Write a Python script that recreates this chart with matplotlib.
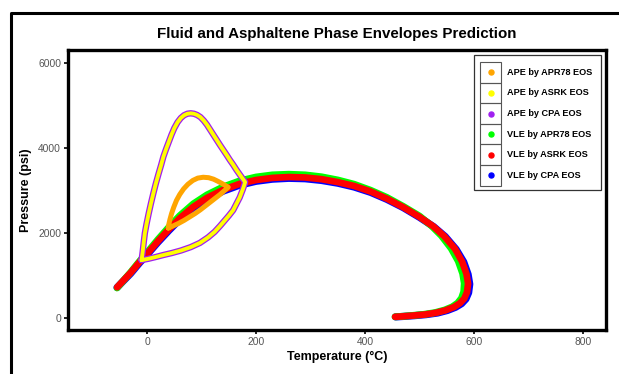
import numpy as np
import matplotlib
matplotlib.use('Agg')
import matplotlib.pyplot as plt
from matplotlib.patches import Rectangle
from matplotlib.lines import Line2D

plt.rcParams['font.family'] = ['Liberation Sans', 'DejaVu Sans']

# VLE by ASRK EOS (red)
t_asrk = [-55, -30, -13, 0, 20, 40, 60, 85, 110, 140, 170, 200, 230, 260, 290, 320, 350, 380, 410, 440,
          470, 500, 525, 545, 565, 578, 586, 589, 587, 582, 574, 563, 548, 530, 510, 488, 470, 455]
p_asrk = [715, 1060, 1320, 1500, 1800, 2080, 2340, 2610, 2820, 3010, 3150, 3240, 3290, 3310, 3300, 3260, 3190, 3100, 2970, 2800,
          2600, 2370, 2150, 1920, 1620, 1320, 1030, 800, 600, 450, 340, 250, 175, 115, 75, 50, 32, 20]
# VLE by APR78 EOS (green)
t_apr = [-55, -30, -13, 0, 20, 40, 60, 85, 110, 140, 170, 200, 230, 260, 290, 320, 350, 380, 410, 440,
         470, 500, 522, 540, 558, 571, 579, 582, 581, 577, 570, 560, 546, 528, 508, 487, 470, 455]
p_apr = [700, 1070, 1340, 1530, 1840, 2130, 2400, 2680, 2890, 3080, 3220, 3310, 3360, 3375, 3360, 3315, 3240, 3140, 3000, 2830,
         2620, 2390, 2160, 1930, 1630, 1330, 1040, 810, 610, 460, 345, 255, 180, 118, 78, 52, 33, 20]
# VLE by CPA EOS (blue)
t_cpa = [-55, -30, -13, 0, 20, 40, 60, 85, 110, 140, 170, 200, 230, 260, 290, 320, 350, 380, 410, 440,
         470, 500, 526, 547, 567, 581, 589, 592, 590, 585, 577, 566, 551, 533, 512, 490, 471, 456]
p_cpa = [710, 1040, 1300, 1480, 1775, 2050, 2310, 2580, 2790, 2980, 3120, 3210, 3260, 3280, 3270, 3230, 3165, 3075, 2950, 2785,
         2590, 2360, 2140, 1910, 1610, 1310, 1020, 790, 590, 440, 330, 245, 170, 110, 72, 47, 30, 18]

# APE by ASRK / CPA EOS (yellow / purple)
t_ape = [-10, -8, -6, -4, -1, 3, 7, 11.6, 16, 21, 26, 30, 35, 40, 45, 50, 56, 62, 68, 74, 80, 86, 92, 98,
         104, 110, 116, 122, 128, 134, 140, 146, 152, 158, 164, 170, 175, 180,
         176, 170, 164, 158, 150, 142, 134, 124, 112, 97, 80, 62, 45, 30, 15, 2, -10]
p_ape = [1355, 1550, 1780, 1990, 2200, 2450, 2680, 2927, 3150, 3380, 3600, 3788, 3970, 4140, 4310, 4460, 4600, 4700, 4765, 4800, 4810, 4800, 4770, 4720,
         4640, 4540, 4420, 4300, 4180, 4060, 3945, 3830, 3710, 3600, 3480, 3370, 3280, 3190,
         3030, 2830, 2680, 2530, 2400, 2280, 2160, 2020, 1890, 1760, 1660, 1580, 1520, 1475, 1425, 1385, 1355]
# APE by APR78 EOS (orange)
t_ape_apr = [39, 40, 42, 45, 49, 54, 60, 67, 75, 84, 93, 103, 113, 122, 130, 138, 144, 149,
             142, 134, 126, 118, 108, 98, 88, 78, 68, 58, 48, 39]
p_ape_apr = [2110, 2200, 2310, 2450, 2600, 2760, 2900, 3030, 3140, 3230, 3285, 3305, 3295, 3260, 3210, 3155, 3110, 3070,
             2990, 2900, 2820, 2740, 2640, 2540, 2450, 2370, 2290, 2220, 2160, 2110]

labels = ['APE by APR78 EOS', 'APE by ASRK EOS', 'APE by CPA EOS',
          'VLE by APR78 EOS', 'VLE by ASRK EOS', 'VLE by CPA EOS']
colors = ['#FFA500', '#FFFF00', '#A020F0', '#00FF00', '#FF0000', '#0000FF']

xticks = [0, 200, 400, 600, 800]
yticks = [0, 2000, 4000, 6000]

fig = plt.figure(figsize=(6.19, 3.74), dpi=100)
ax = fig.add_axes([68 / 619, 1 - 330 / 374, (606 - 68) / 619, (330 - 50) / 374])

kw = dict(solid_capstyle='round', solid_joinstyle='round')
ax.plot(t_cpa, p_cpa, color=colors[5], lw=5.2, **kw)
ax.plot(t_apr, p_apr, color=colors[3], lw=5.0, **kw)
ax.plot(t_asrk, p_asrk, color=colors[4], lw=4.8, **kw)
ax.plot(t_ape_apr, p_ape_apr, color=colors[0], lw=3.6, **kw)
ax.plot(t_ape, p_ape, color=colors[2], lw=4.6, **kw)
ax.plot(t_ape, p_ape, color=colors[1], lw=2.8, **kw)

ax.set_xlim(-145, 842)
ax.set_ylim(-290, 6300)
ax.set_xticks(xticks)
ax.set_yticks(yticks)
ax.tick_params(labelsize=7.4, labelcolor='#555555', length=3, width=1.2, color='black', pad=2)
for s in ax.spines.values():
    s.set_linewidth(2.4)
    s.set_color('black')

ax.set_xlabel('Temperature (°C)', fontsize=9, fontweight='bold', labelpad=3)
ax.set_ylabel('Pressure (psi)', fontsize=9, fontweight='bold', labelpad=4)
fig.text(337 / 619, 1 - 34 / 374, 'Fluid and Asphaltene Phase Envelopes Prediction',
         fontsize=10.9, fontweight='bold', ha='center', va='center')

# legend drawn by hand (ggplot style key boxes)
def px(x, y):
    return x / 619, 1 - y / 374

lx0, ly0, lx1, ly1 = 474, 55, 601, 190
fig.add_artist(Rectangle(px(lx0, ly1), (lx1 - lx0) / 619, (ly1 - ly0) / 374, transform=fig.transFigure,
                         fill=True, facecolor='white', edgecolor='#333333', lw=0.9, zorder=5))
row_h = 20.6
for i, (lab, c) in enumerate(zip(labels, colors)):
    top = 62 + i * row_h
    fig.add_artist(Rectangle(px(480, top + row_h), 21 / 619, row_h / 374, transform=fig.transFigure,
                             fill=False, edgecolor='#555555', lw=0.8, zorder=6))
    cx, cy = px(490.5, top + row_h / 2)
    fig.add_artist(Line2D([cx], [cy], marker='o', markersize=3.6, color=c, transform=fig.transFigure, zorder=7))
    fig.text(507 / 619, cy, lab, fontsize=6.6, fontweight='bold', va='center', ha='left', zorder=7)

# outer border (cropped)
fig.add_artist(Line2D([11 / 619, 11 / 619, 1.0], [0.0, 1 - 13 / 374, 1 - 13 / 374],
                      transform=fig.transFigure, color='black', lw=2.2))

fig.savefig('out.png', dpi=100)
